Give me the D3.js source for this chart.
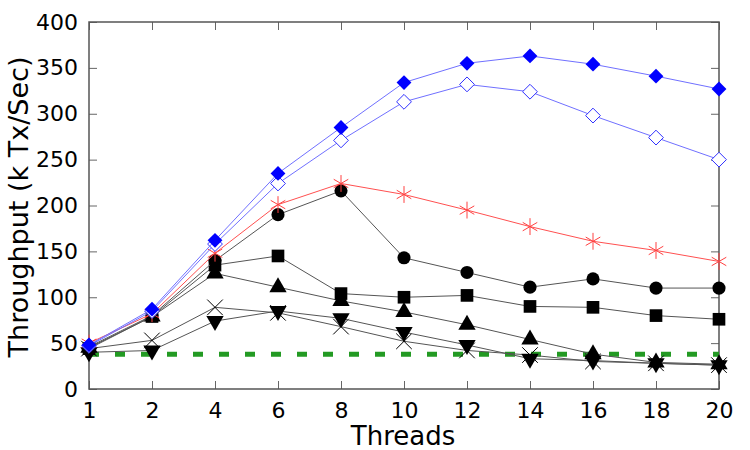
<!DOCTYPE html>
<html>
<head>
<meta charset="utf-8">
<script src="https://cdn.jsdelivr.net/npm/d3@7"></script>
<style>
  body { margin: 0; background: #fff; }
  text { font-family: "DejaVu Sans", sans-serif; fill: #000; }
</style>
</head>
<body>
<svg id="chart" width="750" height="450"></svg>
<script>
// threads on the x axis (evenly spaced categories)
var threads = [1, 2, 4, 6, 8, 10, 12, 14, 16, 18, 20];
var yTicks = [0, 50, 100, 150, 200, 250, 300, 350, 400];

// throughput values, k Tx/Sec
var blueFilled = [48, 87, 162, 235, 285, 334, 355, 363, 354, 341, 327];
var blueOpen   = [47, 85, 158, 224, 271, 313, 332, 324, 298, 274, 250];
var redStar    = [50, 82, 148, 201, 224, 212, 195, 177, 161, 151, 139];
var circles    = [46, 80, 140, 190, 216, 143, 127, 111, 120, 110, 110];
var squares    = [44, 79, 135, 145, 104, 100, 102, 90, 89, 80, 76];
var triUp      = [45, 79, 126, 111, 96, 84, 70, 54, 38, 29, 27];
var triDown    = [40, 42, 74, 85, 77, 62, 48, 33, 31, 28, 26];
var crosses    = [44, 53, 89, 83, 68, 52, 42, 37, 30, 28, 26];
var baseline   = [38, 38, 38, 38, 38, 38, 38, 38, 38, 38, 38];

const svg = d3.select("#chart");
const plotL = 89, plotR = 719, plotT = 22, plotB = 389;

const x = d3.scalePoint().domain(threads).range([plotL, plotR]).padding(0);
const y = d3.scaleLinear().domain([0, 400]).range([plotB, plotT]);

// frame + ticks (inward, mirrored like gnuplot)
svg.append("g")
   .attr("transform", "translate(0," + plotB + ")")
   .call(d3.axisBottom(x).tickSize(-8).tickPadding(14))
   .call(g => g.select(".domain").remove())
   .call(g => g.selectAll("line").attr("stroke", "#666"))
   .call(g => g.selectAll("text").attr("font-size", 22).attr("dy", "0.71em").attr("y", 13));

svg.append("g")
   .attr("transform", "translate(0," + plotT + ")")
   .call(d3.axisTop(x).tickSize(-8).tickFormat(""))
   .call(g => g.select(".domain").remove())
   .call(g => g.selectAll("line").attr("stroke", "#666"));

svg.append("g")
   .attr("transform", "translate(" + plotL + ",0)")
   .call(d3.axisLeft(y).tickValues(yTicks).tickSize(-8).tickPadding(11))
   .call(g => g.select(".domain").remove())
   .call(g => g.selectAll("line").attr("stroke", "#666"))
   .call(g => g.selectAll("text").attr("font-size", 22));

svg.append("g")
   .attr("transform", "translate(" + plotR + ",0)")
   .call(d3.axisRight(y).tickValues(yTicks).tickSize(-8).tickFormat(""))
   .call(g => g.select(".domain").remove())
   .call(g => g.selectAll("line").attr("stroke", "#666"));

svg.append("rect")
   .attr("x", plotL).attr("y", plotT)
   .attr("width", plotR - plotL).attr("height", plotB - plotT)
   .attr("fill", "none").attr("stroke", "#555").attr("stroke-width", 1.5);

// titles
svg.append("text")
   .attr("x", 403).attr("y", 445)
   .attr("text-anchor", "middle").attr("font-size", 26)
   .text("Threads");
svg.append("text")
   .attr("transform", "translate(28,207) rotate(-90)")
   .attr("text-anchor", "middle").attr("font-size", 27)
   .text("Throughput (k Tx/Sec)");

const line = d3.line().x((d, i) => x(threads[i])).y(d => y(d));

// green dashed reference line first
svg.append("path")
   .datum(baseline)
   .attr("d", line)
   .attr("fill", "none")
   .attr("stroke", "#239a23")
   .attr("stroke-width", 5)
   .attr("stroke-dasharray", "10,16");

const sym = {
   diamond: d3.symbol().type(d3.symbolDiamond2).size(140)(),
   circle: d3.symbol().type(d3.symbolCircle).size(135)(),
   square: d3.symbol().type(d3.symbolSquare).size(160)(),
   triUp: d3.symbol().type(d3.symbolTriangle).size(130)(),
   star: d3.symbol().type(d3.symbolAsterisk).size(200)(),
   cross: d3.symbol().type(d3.symbolTimes).size(160)()
};

var series = [
   {data: crosses, line: "#555", shape: "cross", fill: "none", stroke: "#000", sw: 1},
   {data: triDown, line: "#555", shape: "triUp", fill: "#000", stroke: "none", rot: 180},
   {data: triUp, line: "#555", shape: "triUp", fill: "#000", stroke: "none"},
   {data: squares, line: "#555", shape: "square", fill: "#000", stroke: "none"},
   {data: circles, line: "#555", shape: "circle", fill: "#000", stroke: "none"},
   {data: redStar, line: "#ff5050", shape: "star", fill: "none", stroke: "#ff4040", sw: 1},
   {data: blueOpen, line: "#7070ff", shape: "diamond", fill: "#fff", stroke: "#3030ff", sw: 1},
   {data: blueFilled, line: "#7070ff", shape: "diamond", fill: "#0000ff", stroke: "none"}
];

series.forEach(function(s){
   svg.append("path")
      .datum(s.data)
      .attr("d", line)
      .attr("fill", "none")
      .attr("stroke", s.line)
      .attr("stroke-width", 1);

   svg.append("g")
      .selectAll("path")
      .data(s.data)
      .enter().append("path")
         .attr("transform", (d, i) => "translate(" + x(threads[i]) + "," + y(d) + ")" + (s.rot ? " rotate(" + s.rot + ")" : ""))
         .attr("d", sym[s.shape])
         .attr("fill", s.fill)
         .attr("stroke", s.stroke)
         .attr("stroke-width", s.sw || 0);
});
</script>
</body>
</html>
